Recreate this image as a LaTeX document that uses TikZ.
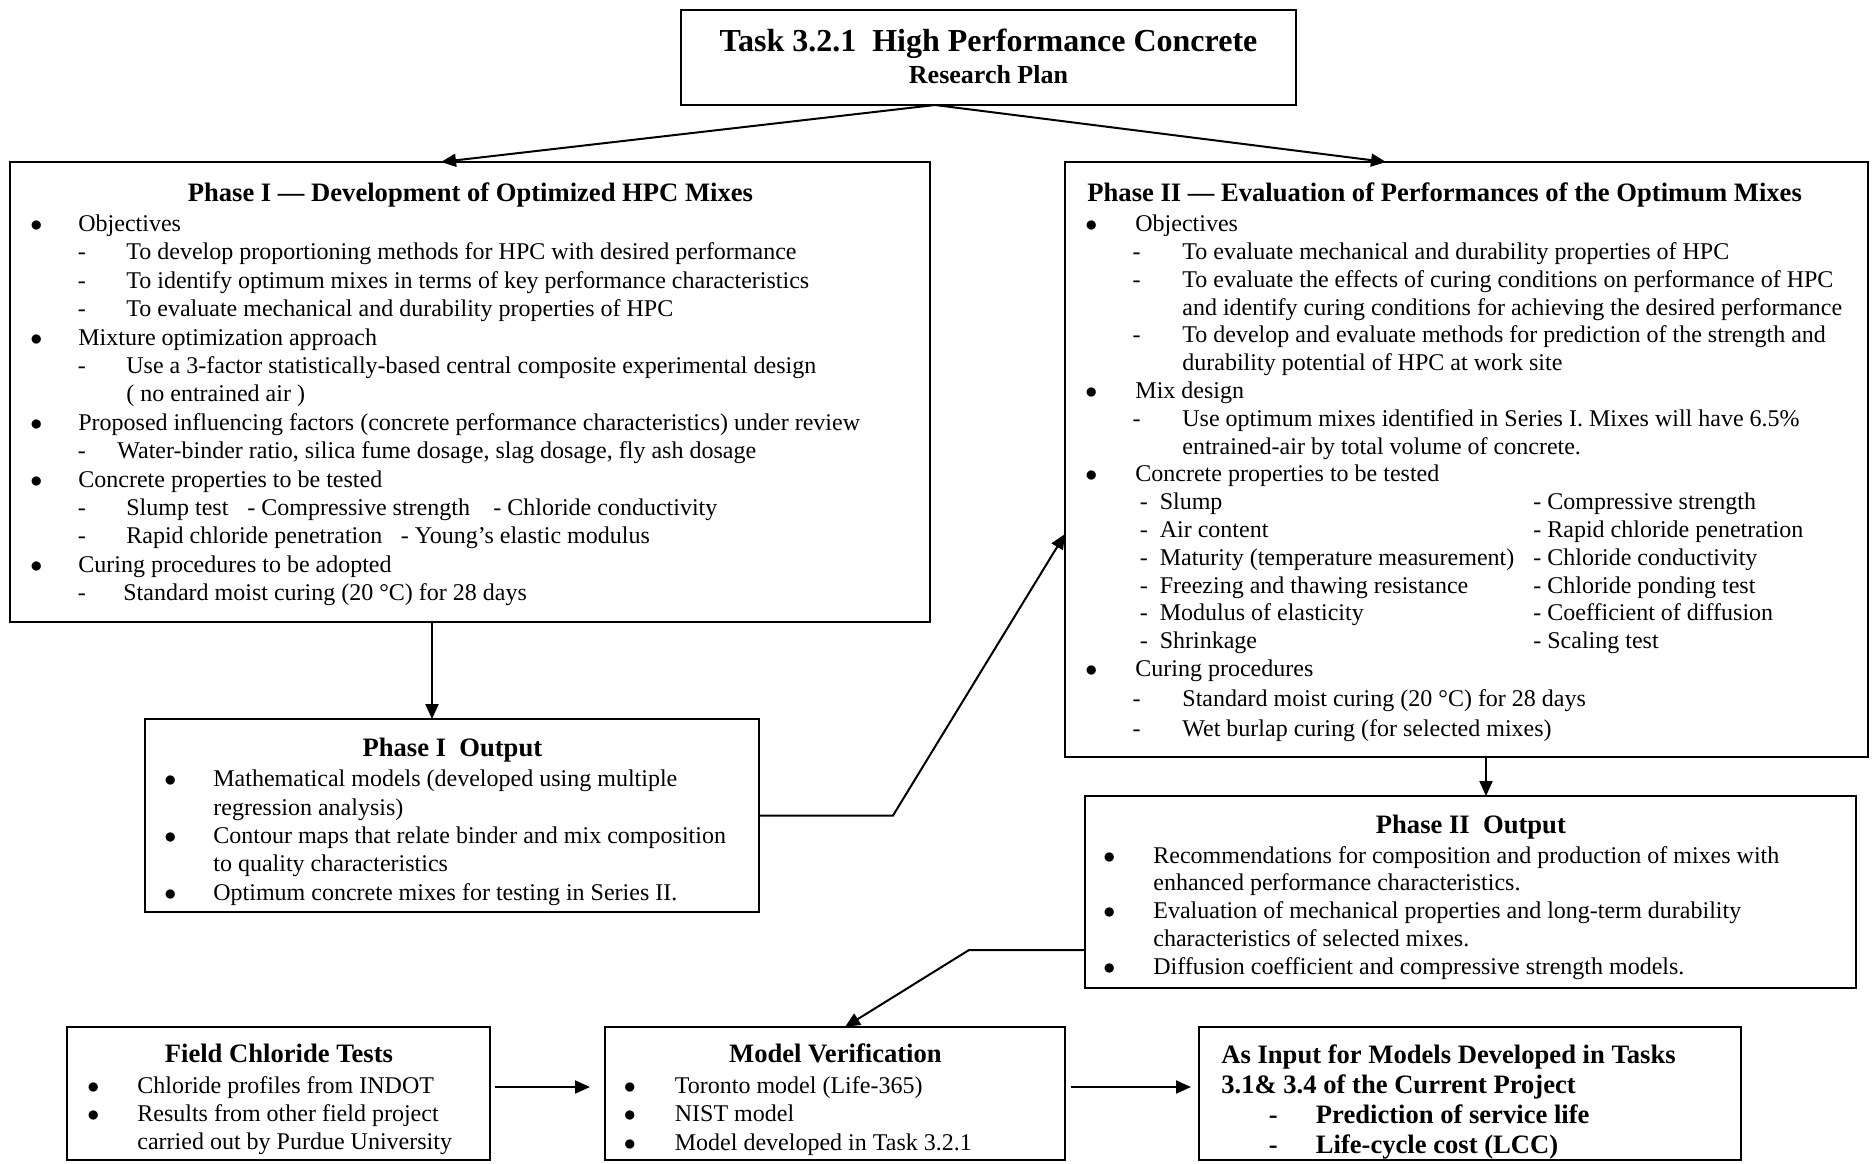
\documentclass[tikz,border=0pt]{standalone}
\usepackage{fontspec}
\setmainfont{Liberation Serif}
\usetikzlibrary{arrows.meta,calc,positioning}
\newcommand{\hd}{\fontsize{13.3}{15}\bfseries\selectfont}
\newcommand{\bul}[3]{\makebox[#2][l]{\hspace*{#1}\makebox[0pt]{$\bullet$}}#3}
\newcommand{\dsh}[3]{\makebox[#2][l]{\hspace*{#1}-}#3}
\newcommand{\ind}[2]{\hspace*{#1}#2}
\newcommand{\twocol}[2]{\makebox[234pt][l]{\hspace*{37.2pt}-\hspace*{6pt}#1}#2}

\begin{document}
\begin{tikzpicture}[%
    x=0.5pt, y=-0.5pt,%
    box/.style={draw, line width=1.1pt, inner sep=0pt, outer sep=0pt},%
    txt/.style={anchor=north west, inner sep=0pt, align=left, font=\fontsize{12}{14.2}\selectfont},%
    arr/.style={-{Triangle[length=7.5pt,width=6.5pt]}, line width=1pt}%
  ]
  \useasboundingbox (0,0) rectangle (1873,1163);%

  % Boxes
  \node[box, minimum width=307.5pt, minimum height=47.5pt] (title) at (988.5,57.5) {};%
  \node[box, minimum width=460pt, minimum height=230pt] (p1) at (470,392) {};%
  \node[box, minimum width=401.5pt, minimum height=297.5pt] (p2) at (1466.5,459.5) {};%
  \node[box, minimum width=307pt, minimum height=96.5pt] (p1out) at (452,815.5) {};%
  \node[box, minimum width=385.5pt, minimum height=96pt] (p2out) at (1470.5,892) {};%
  \node[box, minimum width=211.5pt, minimum height=66.5pt] (field) at (278.5,1093.5) {};%
  \node[box, minimum width=230pt, minimum height=66.5pt] (modelv) at (835,1093.5) {};%
  \node[box, minimum width=271pt, minimum height=66.5pt] (input) at (1470,1093.5) {};%

  % Texts
  \node[inner sep=0pt, align=center, font=\fontsize{13}{15.9}\bfseries\selectfont] (titletxt)
    at ([yshift=0.7pt]title.center)
    {{\fontsize{16}{18}\bfseries\selectfont Task 3.2.1\ \ High Performance Concrete}\\Research Plan};%

  \node[txt] (p1txt) at ([yshift=-10.2pt]p1.north west) {%
    \makebox[460pt]{\hd Phase I — Development of Optimized HPC Mixes}\\[0.8pt]
    \bul{13pt}{34pt}{Objectives}\\
    \dsh{33.7pt}{58pt}{To develop proportioning methods for HPC with desired performance}\\
    \dsh{33.7pt}{58pt}{To identify optimum mixes in terms of key performance characteristics}\\
    \dsh{33.7pt}{58pt}{To evaluate mechanical and durability properties of HPC}\\
    \bul{13pt}{34pt}{Mixture optimization approach}\\
    \dsh{33.7pt}{58pt}{Use a 3-factor statistically-based central composite experimental design}\\
    \ind{58pt}{( no entrained air )}\\
    \bul{13pt}{34pt}{Proposed influencing factors (concrete performance characteristics) under review}\\
    \dsh{33.7pt}{53.5pt}{Water-binder ratio, silica fume dosage, slag dosage, fly ash dosage}\\
    \bul{13pt}{34pt}{Concrete properties to be tested}\\
    \dsh{33.7pt}{58pt}{\makebox[60.5pt][l]{Slump test}\makebox[123pt][l]{- Compressive strength}- Chloride conductivity}\\
    \dsh{33.7pt}{58pt}{\makebox[137.25pt][l]{Rapid chloride penetration}- Young’s elastic modulus}\\
    \bul{13pt}{34pt}{Curing procedures to be adopted}\\
    \dsh{33.7pt}{56.5pt}{Standard moist curing (20 °C) for 28 days}};%

  \node[txt, font=\fontsize{12}{13.9}\selectfont] (p2txt) at ([yshift=-10.2pt]p2.north west) {%
    \ind{11pt}{\hd Phase II — Evaluation of Performances of the Optimum Mixes}\\[1.2pt]
    \bul{13pt}{35pt}{Objectives}\\
    \dsh{33.6pt}{58.5pt}{To evaluate mechanical and durability properties of HPC}\\
    \dsh{33.6pt}{58.5pt}{To evaluate the effects of curing conditions on performance of HPC}\\
    \ind{58.5pt}{and identify curing conditions for achieving the desired performance}\\
    \dsh{33.6pt}{58.5pt}{To develop and evaluate methods for prediction of the strength and}\\
    \ind{58.5pt}{durability potential of HPC at work site}\\
    \bul{13pt}{35pt}{Mix design}\\
    \dsh{33.6pt}{58.5pt}{Use optimum mixes identified in Series I. Mixes will have 6.5\%}\\
    \ind{58.5pt}{entrained-air by total volume of concrete.}\\
    \bul{13pt}{35pt}{Concrete properties to be tested}\\
    \twocol{Slump}{- Compressive strength}\\
    \twocol{Air content}{- Rapid chloride penetration}\\
    \twocol{Maturity (temperature measurement)}{- Chloride conductivity}\\
    \twocol{Freezing and thawing resistance}{- Chloride ponding test}\\
    \twocol{Modulus of elasticity}{- Coefficient of diffusion}\\
    \twocol{Shrinkage}{- Scaling test}\\
    \bul{13pt}{35pt}{Curing procedures}\\[1pt]
    \dsh{33.6pt}{58.5pt}{Standard moist curing (20 °C) for 28 days}\\[1pt]
    \dsh{33.6pt}{58.5pt}{Wet burlap curing (for selected mixes)}};%

  \node[txt] (p1outtxt) at ([yshift=-9.2pt]p1out.north west) {%
    \makebox[307pt]{\hd Phase I\ \ Output}\\[1pt]
    \bul{12.5pt}{34pt}{Mathematical models (developed using multiple}\\
    \ind{34pt}{regression analysis)}\\
    \bul{12.5pt}{34pt}{Contour maps that relate binder and mix composition}\\
    \ind{34pt}{to quality characteristics}\\
    \bul{12.5pt}{34pt}{Optimum concrete mixes for testing in Series II.}};%

  \node[txt, font=\fontsize{12}{13.9}\selectfont] (p2outtxt) at ([yshift=-9.2pt]p2out.north west) {%
    \makebox[385.5pt]{\hd Phase II\ \ Output}\\[1pt]
    \bul{12pt}{34pt}{Recommendations for composition and production of mixes with}\\
    \ind{34pt}{enhanced performance characteristics.}\\
    \bul{12pt}{34pt}{Evaluation of mechanical properties and long-term durability}\\
    \ind{34pt}{characteristics of selected mixes.}\\
    \bul{12pt}{34pt}{Diffusion coefficient and compressive strength models.}};%

  \node[txt] (fieldtxt) at ([yshift=-8.2pt]field.north west) {%
    \makebox[211.5pt]{\hd Field Chloride Tests}\\[1.2pt]
    \bul{13pt}{35pt}{Chloride profiles from INDOT}\\
    \bul{13pt}{35pt}{Results from other field project}\\
    \ind{35pt}{carried out by Purdue University}};%

  \node[txt] (modelvtxt) at ([yshift=-8.2pt]modelv.north west) {%
    \makebox[230pt]{\hd Model Verification}\\[1.2pt]
    \bul{12.25pt}{34.75pt}{Toronto model (Life-365)}\\
    \bul{12.25pt}{34.75pt}{NIST model}\\
    \bul{12.25pt}{34.75pt}{Model developed in Task 3.2.1}};%

  \node[txt, font=\fontsize{13.3}{15}\bfseries\selectfont] (inputtxt) at ([yshift=-8.7pt]input.north west) {%
    \ind{11pt}{As Input for Models Developed in Tasks}\\
    \ind{11pt}{3.1\& 3.4 of the Current Project}\\
    \dsh{34.7pt}{58.25pt}{Prediction of service life}\\
    \dsh{34.7pt}{58.25pt}{Life-cycle cost (LCC)}};%

  % Coordinates
  \coordinate (split) at ([xshift=-26.75pt]title.south);%
  \coordinate (p1drop) at ([xshift=-10pt]p1out.north);%
  \coordinate (p2drop) at ([xshift=7.75pt]p2out.north);%

  % Lines
  \draw[arr] (split) -- ([xshift=-14.5pt]p1.north);%
  \draw[arr] (split) -- ([xshift=-40.25pt]p2.north);%
  \draw[arr] (p1drop |- p1.south) -- (p1drop);%
  \draw[arr] (p2drop |- p2.south) -- (p2drop);%
  \draw[arr] (p1out.east) -- ++(134,0) -- ([yshift=-37.25pt]p2.west);%
  \draw[arr] ([yshift=-29pt]p2out.west) -- ++(-116,0) -- ([xshift=5pt]modelv.north);%
  \draw[arr, shorten <=2.5pt, shorten >=7.5pt] ([yshift=3.25pt]field.east) -- ([yshift=3.25pt]modelv.west);%
  \draw[arr, shorten <=3pt, shorten >=4pt] ([yshift=3.25pt]modelv.east) -- ([yshift=3.25pt]input.west);%
\end{tikzpicture}
\end{document}
